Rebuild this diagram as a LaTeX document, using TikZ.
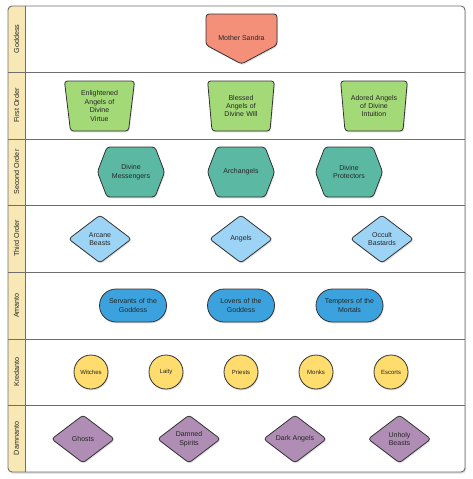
\documentclass[tikz,border=0pt]{standalone}
\usepackage{fontspec}
\setmainfont{Liberation Sans}
\usetikzlibrary{shapes.geometric,shapes.symbols,shapes.misc,shadows}
\definecolor{salmon}{HTML}{F4907A}
\definecolor{leaf}{HTML}{A3D977}
\definecolor{teal}{HTML}{5BB9A3}
\definecolor{sky}{HTML}{9DD3F5}
\definecolor{azure}{HTML}{3BA2DD}
\definecolor{gold}{HTML}{FFDC6E}
\definecolor{lilac}{HTML}{B08DB5}
\definecolor{lanefill}{HTML}{F7E8B5}
\definecolor{laneline}{HTML}{6E6E6E}
\definecolor{edge}{HTML}{333333}
\tikzset{
  shade/.style={drop shadow={opacity=0.25, shadow xshift=0.8pt, shadow yshift=-1.4pt}},
  base/.style={draw=edge, line width=0.8pt, text=black!85, font=\fontsize{7}{8.4}\selectfont,
    align=center, inner sep=0pt, shade},
  pentshape/.style={draw=edge, line width=0.8pt, fill=salmon, rounded corners=3pt, shade},
  pentlabel/.style={text=black!85, font=\fontsize{7}{8.4}\selectfont, inner sep=0pt},
  trapbox/.style={base, fill=leaf, trapezium, trapezium stretches body, trapezium angle=78.7,
    shape border rotate=180, minimum width=65pt, minimum height=50pt, rounded corners=3pt, text width=58pt},
  hexbox/.style={base, fill=teal, signal, signal to=west and east, signal pointer angle=138,
    minimum width=64pt, minimum height=50pt, rounded corners=3pt, text width=48pt},
  diabox/.style={base, fill=sky, diamond, minimum width=63pt, minimum height=48pt, rounded corners=3pt},
  darkdia/.style={diabox, fill=lilac},
  pillbox/.style={base, fill=azure, rounded rectangle, minimum width=67pt, minimum height=33pt, text width=60pt},
  dotbox/.style={base, fill=gold, circle, minimum size=34pt, font=\fontsize{6}{7}\selectfont},
  lanelabel/.style={rotate=90, font=\fontsize{7.2}{8}\selectfont, text=black!85, inner sep=0pt},
  sep/.style={draw=laneline, line width=0.9pt}
}
\begin{document}
\begin{tikzpicture}[x=1pt,y=-1pt]
\useasboundingbox (0,0) rectangle (472,479);
% frame
\path[fill=white, drop shadow={opacity=0.3, shadow xshift=1pt, shadow yshift=-1.5pt}, rounded corners=4pt]
  (8,6) rectangle (465,472);
\path[fill=lanefill, rounded corners=4pt] (8,6) rectangle (30,472);
\fill[white] (25,6) rectangle (31,472);
\draw[laneline, line width=0.9pt] (25,6) -- (25,472);
\foreach \yy in {72,139,205,272,339,405} \draw[sep] (8,\yy) -- (465,\yy);
\draw[laneline, line width=0.9pt, rounded corners=4pt] (8,6) rectangle (465,472);
% lane labels
\node[lanelabel] (l1) at (16.5,39) {Goddess};
\node[lanelabel] (l2) at (16.5,105.5) {First Order};
\node[lanelabel] (l3) at (16.5,172) {Second Order};
\node[lanelabel] (l4) at (16.5,238.5) {Third Order};
\node[lanelabel] (l5) at (16.5,305.5) {Amanto};
\node[lanelabel] (l6) at (16.5,372) {Kredanto};
\node[lanelabel] (l7) at (16.5,438.5) {Damnanto};
% Goddess
\path[pentshape] (206,14) -- (277,14) -- (277,45) -- (241.5,64) -- (206,45) -- cycle;
\node[pentlabel] (ms) at (241.5,38) {Mother Sandra};
% First order
\node[trapbox] (f1) at (99.5,106) {Enlightened\\Angels of\\Divine\\Virtue};
\node[trapbox] (f2) at (241,106) {Blessed\\Angels of\\Divine Will};
\node[trapbox] (f3) at (374,106) {Adored Angels\\of Divine\\Intuition};
% Second order
\node[hexbox] (s1) at (131,172) {Divine\\Messengers};
\node[hexbox] (s2) at (241,172) {Archangels};
\node[hexbox] (s3) at (349,172) {Divine\\Protectors};
% Third order
\node[diabox] (t1) at (100,239) {Arcane\\Beasts};
\node[diabox] (t2) at (241,239) {Angels};
\node[diabox] (t3) at (382,239) {Occult\\Bastards};
% Amanto
\node[pillbox] (a1) at (133,305.5) {Servants of the\\Goddess};
\node[pillbox] (a2) at (241,305.5) {Lovers of the\\Goddess};
\node[pillbox] (a3) at (349.5,305.5) {Tempters of the\\Mortals};
% Kredanto
\node[dotbox] (k1) at (91,372) {Witches};
\node[dotbox] (k2) at (166,372) {Laity};
\node[dotbox] (k3) at (241,372) {Priests};
\node[dotbox] (k4) at (316,372) {Monks};
\node[dotbox] (k5) at (391,372) {Escorts};
% Damnanto
\node[darkdia] (d1) at (83,439) {Ghosts};
\node[darkdia] (d2) at (189,439) {Damned\\Spirits};
\node[darkdia] (d3) at (295,439) {Dark Angels};
\node[darkdia] (d4) at (399.5,439) {Unholy\\Beasts};
\end{tikzpicture}
\end{document}
